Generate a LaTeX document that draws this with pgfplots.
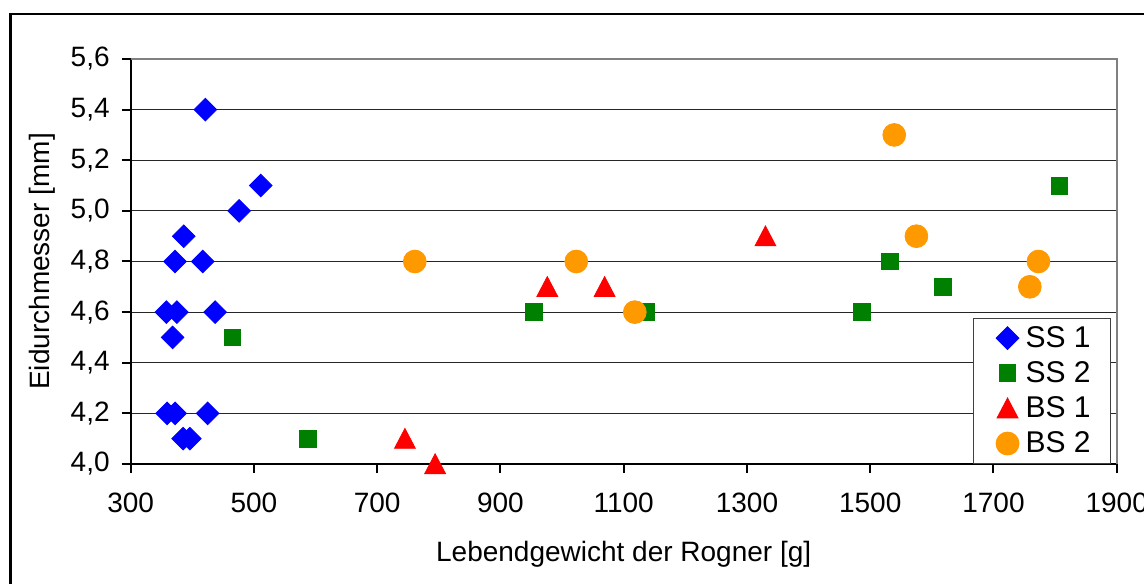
\documentclass[border=0pt]{standalone}
\usepackage{fontspec}
\setmainfont{Liberation Sans}
\usepackage{pgfplots}
\pgfplotsset{compat=1.18}
\definecolor{ssone}{RGB}{0,0,255}
\definecolor{sstwo}{RGB}{0,128,0}
\definecolor{bsone}{RGB}{255,0,0}
\definecolor{bstwo}{RGB}{255,153,0}
\begin{document}
\begin{tikzpicture}
\useasboundingbox (0,0) rectangle (572pt,291.5pt);
\draw[line width=1.35pt] (5.15pt,-5pt) -- (5.15pt,284.5pt) -- (580pt,284.5pt);
\coordinate (A) at (65.35pt,59.5pt);
\begin{axis}[
  at={(A)}, anchor=south west,
  scale only axis, width=493pt, height=202.5pt,
  xmin=300, xmax=1900, ymin=4, ymax=5.6,
  clip=false,
  xtick={300,500,...,1900},
  ytick={4,4.2,4.4,4.6,4.8,5.0,5.2,5.4,5.6},
  axis x line*=bottom, axis y line*=left,
  axis line style={line width=1pt, black, -},
  tick align=outside, major tick length=4.5pt,
  tick style={black, line width=1pt},
  ymajorgrids, grid style={black!85, line width=0.5pt},
  /pgf/number format/assume math mode=true,
  ticklabel style={font=\fontsize{14}{16}\selectfont},
  xticklabel style={/pgf/number format/1000 sep={}, yshift=-6.5pt},
  yticklabel style={/pgf/number format/.cd, fixed, fixed zerofill, precision=1, use comma, /tikz/.cd, xshift=-2.5pt},
  xlabel={Lebendgewicht der Rogner [g]},
  ylabel={Eidurchmesser [mm]},
  label style={font=\fontsize{14}{16}\selectfont},
  xlabel style={at={(axis description cs:0.5,-0.2230)}, anchor=center},
  ylabel style={at={(axis description cs:-0.09,0.5)}, anchor=center},
  legend style={at={(axis description cs:0.9943,0)}, anchor=south east,
    draw=black!75, line width=0.5pt, fill=white,
    font=\fontsize{15}{17}\selectfont,
    inner xsep=8pt, inner ysep=2pt, row sep=1.6pt,
    nodes={inner sep=2pt}},
  legend cell align=left,
  legend image code/.code={\path[draw=none,fill=none] (-9pt,0pt) (7pt,0pt); \draw[#1] plot coordinates {(0pt,0pt)};},
]
\addplot[only marks, mark=square*, color=ssone, mark size=4pt, mark options={rotate=45}] coordinates {
(421,5.4) (511,5.1) (476,5.0) (386,4.9) (372,4.8) (417,4.8) (358,4.6) (375,4.6)
(437,4.6) (368,4.5) (359,4.2) (372,4.2) (425,4.2) (385,4.1) (396,4.1)};
\addlegendentry{SS 1}
\addplot[only marks, mark=square*, color=sstwo, mark size=4.2pt] coordinates {
(465,4.5) (588,4.1) (954,4.6) (1136,4.6) (1487,4.6) (1532,4.8) (1618,4.7) (1807,5.1)};
\addlegendentry{SS 2}
\addplot[only marks, mark=triangle*, color=bsone, mark size=6pt, mark options={yshift=-1.5pt, yscale=1.1}] coordinates {
(745,4.1) (794,4.0) (976,4.7) (1069,4.7) (1330,4.9)};
\addlegendentry{BS 1}
\addplot[only marks, mark=*, color=bstwo, mark size=5.7pt] coordinates {
(761,4.8) (1023,4.8) (1118,4.6) (1539,5.3) (1575,4.9) (1759,4.7) (1773,4.8)};
\addlegendentry{BS 2}
\draw[gray, line width=1pt] (rel axis cs:0,1) -- (rel axis cs:1,1) -- (rel axis cs:1,0);
\end{axis}
\end{tikzpicture}
\end{document}
